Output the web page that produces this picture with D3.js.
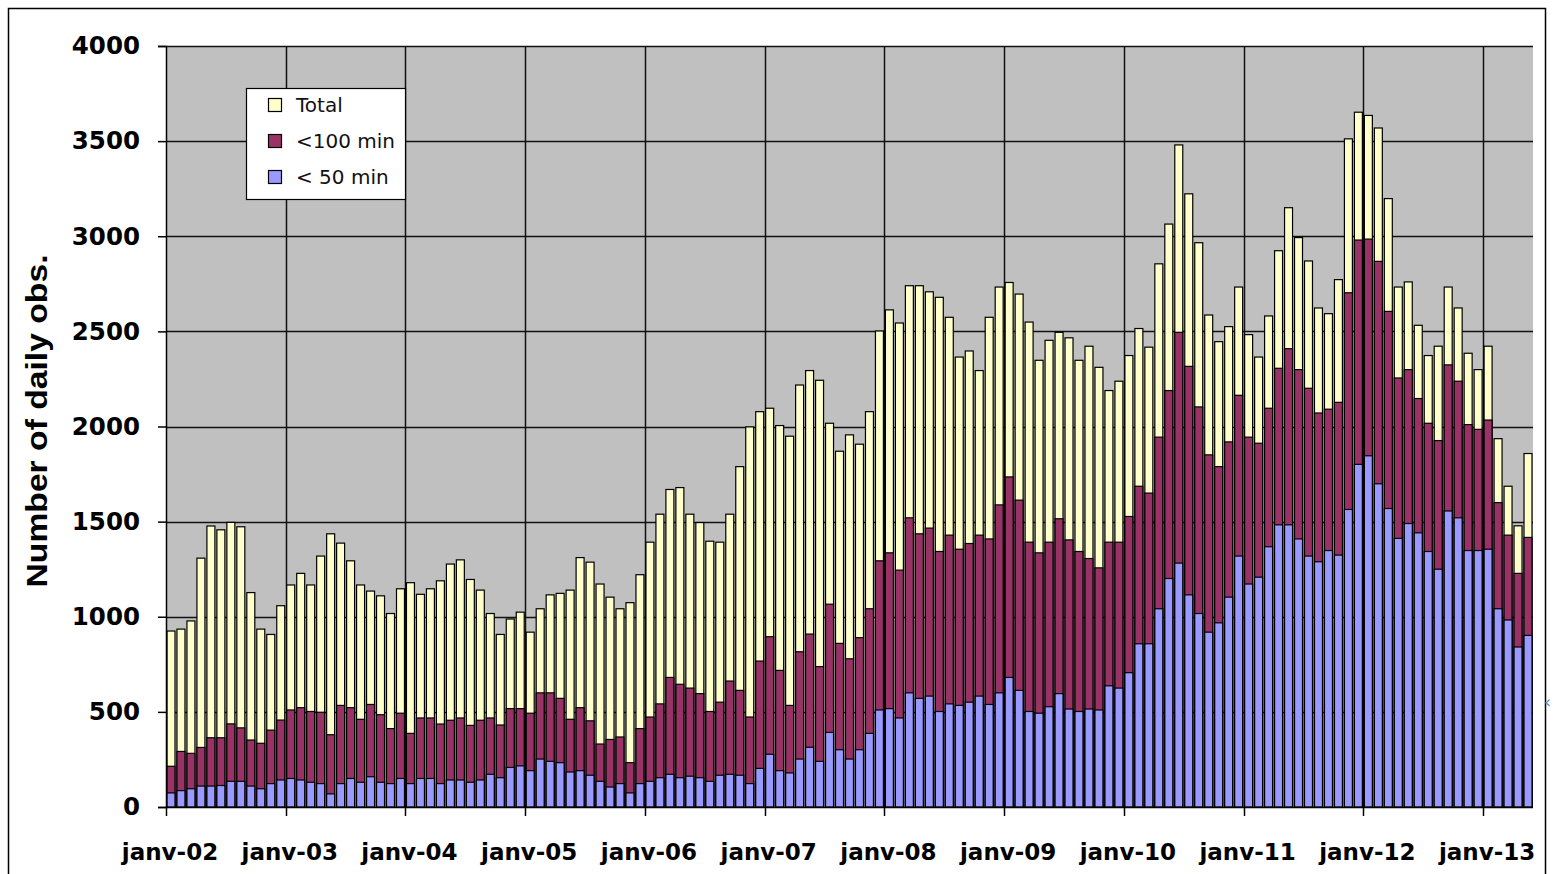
<!DOCTYPE html>
<html>
<head>
<meta charset="utf-8">
<script src="https://cdn.jsdelivr.net/npm/d3@7"></script>
<style>
  body { margin: 0; background: #fff; }
  svg { display: block; }
</style>
</head>
<body>
<svg id="chart" width="1554" height="874"></svg>
<script>
"use strict";

// monthly values, janv-02 .. mai-13
var total = [
  925, 935, 978, 1308, 1477, 1457, 1496, 1473, 1127, 935, 907, 1058,
  1167, 1228, 1167, 1319, 1436, 1387, 1294, 1167, 1135, 1110, 1017, 1147,
  1179, 1118, 1147, 1189, 1277, 1299, 1196, 1140, 1017, 907, 988, 1024,
  919, 1042, 1115, 1123, 1140, 1311, 1287, 1172, 1103, 1042, 1074, 1221,
  1392, 1539, 1669, 1679, 1539, 1495, 1397, 1392, 1539, 1789, 1998, 2078,
  2096, 2005, 1949, 2218, 2294, 2243, 2017, 1870, 1956, 1907, 2078, 2502,
  2613, 2544, 2740, 2740, 2708, 2679, 2574, 2365, 2397, 2294, 2574, 2733,
  2757, 2696, 2549, 2348, 2453, 2495, 2466, 2348, 2422, 2311, 2189, 2238,
  2373, 2515, 2417, 2855, 3064, 3480, 3223, 2966, 2586, 2446, 2525, 2733,
  2483, 2365, 2581, 2924, 3150, 2993, 2870, 2623, 2593, 2772, 3512, 3652,
  3635, 3569, 3198, 2733, 2760, 2532, 2373, 2422, 2733, 2623, 2385, 2299,
  2422, 1936, 1686, 1478, 1858
];

var under100 = [
  214, 292, 282, 313, 364, 364, 437, 416, 352, 335, 404, 457,
  510, 522, 502, 498, 380, 534, 522, 461, 539, 485, 412, 493,
  387, 468, 468, 436, 456, 468, 429, 456, 468, 431, 517, 517,
  493, 600, 600, 571, 461, 522, 453, 331, 355, 368, 233, 412,
  473, 542, 681, 645, 625, 596, 502, 551, 662, 613, 473, 767,
  895, 718, 534, 816, 909, 738, 1066, 860, 779, 890, 1042, 1294,
  1336, 1245, 1520, 1436, 1466, 1343, 1429, 1355, 1385, 1429, 1409, 1588,
  1735, 1613, 1392, 1336, 1392, 1515, 1404, 1343, 1306, 1257, 1392, 1392,
  1527, 1686, 1650, 1944, 2189, 2495, 2316, 2103, 1851, 1789, 1919, 2164,
  1944, 1912, 2096, 2306, 2409, 2299, 2201, 2071, 2091, 2127, 2703, 2980,
  2985, 2868, 2605, 2255, 2299, 2147, 2017, 1926, 2324, 2238, 2010, 1985,
  2034, 1600, 1429, 1228, 1417
];

var under50 = [
  74, 86, 96, 110, 110, 113, 135, 135, 110, 96, 123, 142,
  150, 142, 130, 123, 69, 123, 150, 130, 159, 130, 123, 150,
  123, 150, 150, 123, 142, 142, 130, 142, 172, 154, 208, 216,
  191, 252, 240, 233, 184, 191, 167, 135, 105, 123, 74, 123,
  135, 154, 172, 154, 162, 154, 135, 167, 172, 167, 123, 203,
  277, 191, 179, 252, 314, 240, 392, 301, 252, 301, 387, 510,
  517, 468, 600, 571, 583, 502, 542, 534, 551, 583, 539, 600,
  681, 613, 502, 493, 527, 596, 515, 502, 515, 510, 637, 625,
  706, 858, 858, 1042, 1201, 1282, 1115, 1017, 919, 968, 1103, 1319,
  1172, 1208, 1368, 1483, 1483, 1409, 1319, 1289, 1348, 1324, 1564, 1801,
  1846, 1699, 1569, 1412, 1490, 1441, 1343, 1250, 1556, 1520, 1348, 1348,
  1355, 1042, 983, 841, 902
];

var months = d3.range(total.length);
var yearLabels = ['janv-02', 'janv-03', 'janv-04', 'janv-05', 'janv-06', 'janv-07',
  'janv-08', 'janv-09', 'janv-10', 'janv-11', 'janv-12', 'janv-13'];
var yTicks = [0, 500, 1000, 1500, 2000, 2500, 3000, 3500, 4000];

var series = [
  { name: 'Total', values: total, color: '#FFFFCC' },
  { name: '<100 min', values: under100, color: '#993366' },
  { name: '< 50 min', values: under50, color: '#9999FF' }
];

var svg = d3.select('#chart');
var plot = { left: 166, right: 1533, top: 46, bottom: 807 };

var x = d3.scaleBand()
  .domain(months)
  .range([plot.left, plot.right])
  .paddingInner(0.2)
  .paddingOuter(0.1);

var step = (plot.right - plot.left) / months.length;
var yearX = function(i) { return plot.left + i * 12 * step; };

var y = d3.scaleLinear().domain([0, 4000]).range([plot.bottom, plot.top]);

// outer frame
svg.append('rect')
  .attr('x', 8.5).attr('y', 8.5)
  .attr('width', 1537).attr('height', 880)
  .attr('fill', 'none').attr('stroke', '#000').attr('stroke-width', 1.5);

// plot background
svg.append('rect')
  .attr('x', plot.left).attr('y', plot.top)
  .attr('width', plot.right - plot.left).attr('height', plot.bottom - plot.top)
  .attr('fill', '#C0C0C0');

// horizontal gridlines
svg.append('g')
  .selectAll('line')
  .data(yTicks.slice(1))
  .enter().append('line')
  .attr('x1', plot.left).attr('x2', plot.right)
  .attr('y1', function(d) { return Math.round(y(d)) + 0.5; })
  .attr('y2', function(d) { return Math.round(y(d)) + 0.5; })
  .attr('stroke', '#111').attr('stroke-width', 1.5);

// vertical gridlines at each january
svg.append('g')
  .selectAll('line')
  .data(yearLabels.slice(1))
  .enter().append('line')
  .attr('x1', function(d, i) { return Math.round(yearX(i + 1)) + 0.5; })
  .attr('x2', function(d, i) { return Math.round(yearX(i + 1)) + 0.5; })
  .attr('y1', plot.top).attr('y2', plot.bottom)
  .attr('stroke', '#111').attr('stroke-width', 1.5);

// bars, drawn back to front so the subsets sit over the total
series.forEach(function(s) {
  svg.append('g')
    .selectAll('rect')
    .data(s.values)
    .enter().append('rect')
    .attr('x', function(d, i) { return x(i); })
    .attr('width', x.bandwidth())
    .attr('y', function(d) { return y(d); })
    .attr('height', function(d) { return y(0) - y(d); })
    .attr('fill', s.color)
    .attr('stroke', '#000')
    .attr('stroke-width', 1.2);
});

// y axis
var yAxis = svg.append('g')
  .attr('transform', 'translate(' + plot.left + ',0)')
  .call(d3.axisLeft(y).tickValues(yTicks).tickFormat(d3.format('d')).tickSize(8).tickPadding(18));
yAxis.select('.domain').attr('stroke', '#000').attr('stroke-width', 1.5);
yAxis.selectAll('.tick line').attr('stroke', '#000').attr('stroke-width', 1.5);
yAxis.selectAll('text')
  .attr('font-family', 'DejaVu Sans')
  .attr('font-weight', 'bold')
  .attr('font-size', 24.5)
  .attr('fill', '#000');

// x axis baseline + year ticks
svg.append('line')
  .attr('x1', plot.left).attr('x2', plot.right)
  .attr('y1', plot.bottom + 0.5).attr('y2', plot.bottom + 0.5)
  .attr('stroke', '#000').attr('stroke-width', 1.5);

var xTicks = svg.append('g');
xTicks.selectAll('line')
  .data(yearLabels)
  .enter().append('line')
  .attr('x1', function(d, i) { return Math.round(yearX(i)) + 0.5; })
  .attr('x2', function(d, i) { return Math.round(yearX(i)) + 0.5; })
  .attr('y1', plot.bottom).attr('y2', plot.bottom + 9)
  .attr('stroke', '#000').attr('stroke-width', 1.5);

xTicks.selectAll('text')
  .data(yearLabels)
  .enter().append('text')
  .attr('x', function(d, i) { return yearX(i) + 4; })
  .attr('y', 860)
  .attr('text-anchor', 'middle')
  .attr('font-family', 'DejaVu Sans')
  .attr('font-weight', 'bold')
  .attr('font-size', 23)
  .text(function(d) { return d; });

// y title
svg.append('text')
  .attr('transform', 'translate(47,421) rotate(-90)')
  .attr('text-anchor', 'middle')
  .attr('font-family', 'Liberation Sans, Arial, sans-serif')
  .attr('font-weight', 'bold')
  .attr('font-size', 30)
  .attr('textLength', 333)
  .attr('lengthAdjust', 'spacingAndGlyphs')
  .text('Number of daily obs.');

// legend
var legend = svg.append('g');
legend.append('rect')
  .attr('x', 246.5).attr('y', 88.5)
  .attr('width', 159).attr('height', 111)
  .attr('fill', '#fff').attr('stroke', '#000').attr('stroke-width', 1.2);

var items = legend.selectAll('g.item')
  .data(series)
  .enter().append('g')
  .attr('class', 'item')
  .attr('transform', function(d, i) { return 'translate(0,' + (105 + i * 36) + ')'; });

items.append('rect')
  .attr('x', 268.5).attr('y', -6.5)
  .attr('width', 13).attr('height', 13)
  .attr('fill', function(d) { return d.color; })
  .attr('stroke', '#000').attr('stroke-width', 1.2);

items.append('text')
  .attr('x', 296).attr('y', 7)
  .attr('font-family', 'DejaVu Sans')
  .attr('font-size', 20)
  .attr('fill', '#111')
  .text(function(d) { return d.name; });

// little marker on the right edge
svg.append('text')
  .attr('x', 1544).attr('y', 708)
  .attr('font-family', 'DejaVu Sans')
  .attr('font-size', 18)
  .attr('fill', '#5b8fd0')
  .text('\u2039');
</script>
</body>
</html>
